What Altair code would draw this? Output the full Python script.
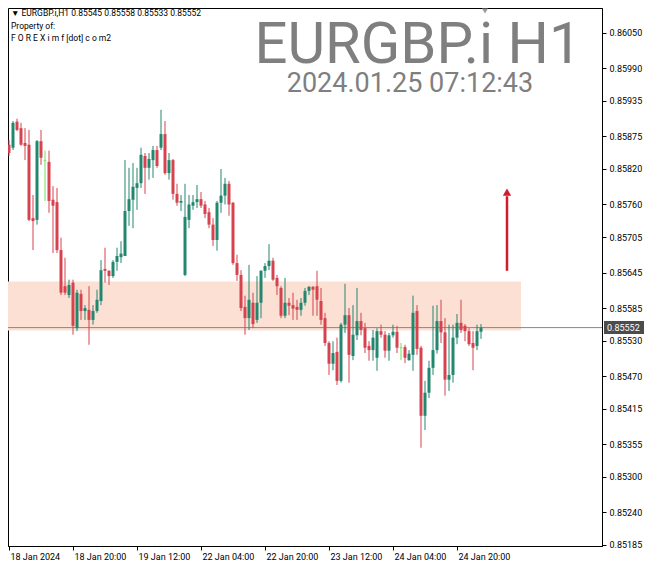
import altair as alt
import pandas as pd

# ---- H1 candles, 18 Jan 04:00 ... 25 Jan 06:00 ----
opens = [
    0.85861, 0.85856, 0.85900, 0.85889, 0.85864, 0.85861, 0.85737, 0.85734, 0.85867, 0.85834,
    0.85832, 0.85768, 0.85764, 0.85683, 0.85622, 0.85607, 0.85628, 0.85551, 0.85609, 0.85580,
    0.85582, 0.85565, 0.85580, 0.85597, 0.85651, 0.85648, 0.85639, 0.85663, 0.85671, 0.85673,
    0.85749, 0.85768, 0.85788, 0.85796, 0.85842, 0.85822, 0.85835, 0.85852, 0.85856, 0.85879,
    0.85813, 0.85835, 0.85778, 0.85763, 0.85641, 0.85734, 0.85758, 0.85764, 0.85769, 0.85760,
    0.85747, 0.85726, 0.85700, 0.85763, 0.85775, 0.85795, 0.85763, 0.85661, 0.85641, 0.85587,
    0.85568, 0.85594, 0.85565, 0.85594, 0.85648, 0.85656, 0.85665, 0.85636, 0.85619, 0.85572,
    0.85594, 0.85590, 0.85587, 0.85582, 0.85594, 0.85614, 0.85621, 0.85622, 0.85597, 0.85568,
    0.85526, 0.85491, 0.85511, 0.85462, 0.85557, 0.85573, 0.85504, 0.85539, 0.85563, 0.85551,
    0.85521, 0.85514, 0.85501, 0.85546, 0.85540, 0.85513, 0.85539, 0.85545, 0.85518, 0.85519,
    0.85497, 0.85506, 0.85580, 0.85518, 0.85403, 0.85442, 0.85484, 0.85514, 0.85563, 0.85544,
    0.85464, 0.85472, 0.85535, 0.85560, 0.85555, 0.85546, 0.85526, 0.85521, 0.85545,
]
highs = [
    0.85869, 0.85901, 0.85905, 0.85898, 0.85889, 0.85886, 0.85776, 0.85869, 0.85886, 0.85851,
    0.85851, 0.85791, 0.85788, 0.85704, 0.85670, 0.85633, 0.85633, 0.85616, 0.85616, 0.85590,
    0.85622, 0.85590, 0.85616, 0.85666, 0.85687, 0.85649, 0.85666, 0.85687, 0.85698, 0.85835,
    0.85822, 0.85830, 0.85822, 0.85856, 0.85847, 0.85847, 0.85859, 0.85859, 0.85920, 0.85901,
    0.85847, 0.85837, 0.85795, 0.85776, 0.85795, 0.85776, 0.85776, 0.85793, 0.85781, 0.85766,
    0.85754, 0.85737, 0.85766, 0.85820, 0.85805, 0.85800, 0.85764, 0.85675, 0.85649, 0.85606,
    0.85658, 0.85611, 0.85639, 0.85649, 0.85661, 0.85693, 0.85670, 0.85641, 0.85622, 0.85636,
    0.85602, 0.85611, 0.85599, 0.85602, 0.85619, 0.85622, 0.85622, 0.85648, 0.85619, 0.85577,
    0.85529, 0.85529, 0.85535, 0.85560, 0.85626, 0.85585, 0.85590, 0.85619, 0.85577, 0.85560,
    0.85529, 0.85548, 0.85551, 0.85557, 0.85546, 0.85543, 0.85557, 0.85555, 0.85526, 0.85523,
    0.85514, 0.85606, 0.85590, 0.85521, 0.85462, 0.85496, 0.85589, 0.85590, 0.85599, 0.85568,
    0.85557, 0.85557, 0.85575, 0.85599, 0.85558, 0.85551, 0.85546, 0.85557, 0.85558,
]
lows = [
    0.85842, 0.85852, 0.85884, 0.85859, 0.85835, 0.85732, 0.85683, 0.85726, 0.85827, 0.85766,
    0.85746, 0.85678, 0.85678, 0.85607, 0.85607, 0.85602, 0.85540, 0.85546, 0.85565, 0.85565,
    0.85523, 0.85557, 0.85577, 0.85590, 0.85628, 0.85624, 0.85636, 0.85648, 0.85661, 0.85673,
    0.85724, 0.85720, 0.85751, 0.85788, 0.85778, 0.85802, 0.85805, 0.85822, 0.85852, 0.85810,
    0.85802, 0.85768, 0.85758, 0.85749, 0.85639, 0.85720, 0.85751, 0.85754, 0.85754, 0.85737,
    0.85720, 0.85690, 0.85682, 0.85746, 0.85760, 0.85741, 0.85658, 0.85631, 0.85580, 0.85540,
    0.85548, 0.85551, 0.85560, 0.85568, 0.85636, 0.85649, 0.85631, 0.85607, 0.85568, 0.85568,
    0.85573, 0.85565, 0.85565, 0.85572, 0.85589, 0.85607, 0.85572, 0.85572, 0.85557, 0.85521,
    0.85472, 0.85480, 0.85455, 0.85459, 0.85543, 0.85459, 0.85497, 0.85531, 0.85539, 0.85509,
    0.85496, 0.85496, 0.85479, 0.85535, 0.85501, 0.85496, 0.85535, 0.85509, 0.85497, 0.85492,
    0.85496, 0.85479, 0.85506, 0.85349, 0.85379, 0.85433, 0.85472, 0.85508, 0.85526, 0.85437,
    0.85445, 0.85459, 0.85524, 0.85543, 0.85529, 0.85521, 0.85480, 0.85514, 0.85533,
]
closes = [
    0.85847, 0.85898, 0.85886, 0.85861, 0.85859, 0.85734, 0.85732, 0.85867, 0.85839, 0.85834,
    0.85766, 0.85758, 0.85683, 0.85611, 0.85611, 0.85624, 0.85555, 0.85611, 0.85580, 0.85585,
    0.85565, 0.85580, 0.85599, 0.85649, 0.85648, 0.85639, 0.85663, 0.85673, 0.85677, 0.85749,
    0.85769, 0.85790, 0.85796, 0.85844, 0.85822, 0.85837, 0.85852, 0.85825, 0.85879, 0.85813,
    0.85835, 0.85778, 0.85763, 0.85766, 0.85739, 0.85760, 0.85764, 0.85769, 0.85758, 0.85744,
    0.85726, 0.85700, 0.85763, 0.85775, 0.85795, 0.85760, 0.85661, 0.85641, 0.85585, 0.85568,
    0.85599, 0.85558, 0.85594, 0.85648, 0.85656, 0.85665, 0.85633, 0.85622, 0.85572, 0.85594,
    0.85589, 0.85584, 0.85582, 0.85594, 0.85614, 0.85621, 0.85616, 0.85599, 0.85565, 0.85526,
    0.85491, 0.85509, 0.85462, 0.85557, 0.85573, 0.85506, 0.85540, 0.85563, 0.85548, 0.85518,
    0.85514, 0.85535, 0.85546, 0.85540, 0.85513, 0.85539, 0.85545, 0.85518, 0.85518, 0.85501,
    0.85508, 0.85577, 0.85516, 0.85403, 0.85442, 0.85484, 0.85514, 0.85563, 0.85544, 0.85464,
    0.85472, 0.85535, 0.85560, 0.85548, 0.85546, 0.85524, 0.85518, 0.85546, 0.85552,
]

time_ticks = [0, 16, 32, 48, 64, 80, 96, 112]
time_labels = ["18 Jan 2024", "18 Jan 20:00", "19 Jan 12:00", "22 Jan 04:00",
               "22 Jan 20:00", "23 Jan 12:00", "24 Jan 04:00", "24 Jan 20:00"]
price_ticks = [0.86050, 0.85990, 0.85935, 0.85875, 0.85820, 0.85760, 0.85705, 0.85645,
               0.85585, 0.85530, 0.85470, 0.85415, 0.85355, 0.85300, 0.85240, 0.85185]
last_price = 0.85552
zone_top, zone_bottom, zone_end = 0.85630, 0.85547, 128
arrow_idx, arrow_from, arrow_to, arrow_head = 124.5, 0.85648, 0.85774, 0.85781
header = "\u25bc  EURGBP.i,H1  0.85545 0.85558 0.85533 0.85552"

UP, DOWN, DOJI = "#23876F", "#D5434F", "#6FE05A"
FONT = "Roboto"
W, H = 594, 538

rows = []
for i, (o, h, l, c) in enumerate(zip(opens, highs, lows, closes)):
    d = "up" if c > o else ("down" if c < o else "doji")
    rows.append({"i": i, "o": o, "h": h, "l": l, "c": c, "d": d})
df = pd.DataFrame(rows)

expr = " : ".join(f"datum.value == {t} ? '{s}'" for t, s in zip(time_ticks, time_labels)) + " : ''"

xscale = alt.Scale(domain=[-0.25, 148.25], nice=False, zero=False, padding=0)
yscale = alt.Scale(domain=[0.85183, 0.86092], nice=False, zero=False, padding=0)
xaxis = alt.Axis(values=time_ticks, labelExpr=expr, labelAlign="left", labelOffset=1,
                 tickSize=4, labelPadding=2, grid=False, title=None, labelFont=FONT,
                 labelFontSize=9, labelColor="black", domainColor="black", tickColor="black",
                 labelOverlap=False, labelFlush=False, labelBound=False)
yaxis = alt.Axis(orient="right", values=price_ticks, format=".5f", tickSize=4, labelPadding=3,
                 grid=False, title=None, labelFont=FONT, labelFontSize=9, labelColor="black",
                 domainColor="black", tickColor="black", labelOverlap=False, labelFlush=False,
                 labelBound=False)

def X(f):
    return alt.X(f, type="quantitative", scale=xscale, axis=xaxis)

def Y(f):
    return alt.Y(f, type="quantitative", scale=yscale, axis=yaxis)

color = alt.Color("d:N", scale=alt.Scale(domain=["up", "down", "doji"], range=[UP, DOWN, DOJI]),
                  legend=None)

zone = alt.Chart(pd.DataFrame([{"x0": -0.25, "x1": zone_end, "t": zone_top, "b": zone_bottom}])).mark_rect(
    color="#FCE0D4").encode(x=X("x0"), x2="x1", y=Y("t"), y2="b")

pline = alt.Chart(pd.DataFrame([{"p": last_price}])).mark_rule(color="#7C8C90", strokeWidth=1).encode(y=Y("p"))

wicks = alt.Chart(df).mark_rule(strokeWidth=1).encode(x=X("i"), y=Y("l"), y2="h", color=color)
bodies = alt.Chart(df).transform_filter("datum.d != 'doji'").mark_bar(size=3).encode(
    x=X("i"), y=Y("o"), y2="c", color=color)
dojis = alt.Chart(df).transform_filter("datum.d == 'doji'").mark_tick(
    orient="horizontal", size=3, thickness=1, color=DOJI).encode(x=X("i"), y=Y("o"))

arrow_df = pd.DataFrame([{"i": arrow_idx, "a": arrow_from, "b": arrow_to, "hd": arrow_head}])
arrow = alt.Chart(arrow_df).mark_rule(color="#CF1B2E", strokeWidth=2.5).encode(x=X("i"), y=Y("a"), y2="b")
head = alt.Chart(arrow_df).mark_point(shape="triangle-up", filled=True, size=70, color="#CF1B2E",
                                      opacity=1).encode(x=X("i"), y=Y("hd"))

marker = alt.Chart(pd.DataFrame([{"i": 119}])).mark_point(
    shape="triangle-down", filled=True, size=36, color="#9A9A9A", opacity=1).encode(
    x=X("i"), y=alt.value(3))

pbox = alt.Chart(pd.DataFrame([{"p": last_price}])).mark_tick(
    orient="horizontal", size=40, thickness=13, color="black").encode(x=alt.value(W + 22), y=Y("p"))
ptext = alt.Chart(pd.DataFrame([{"p": last_price, "t": f"{last_price:.5f}"}])).mark_text(
    align="left", baseline="middle", color="white", font=FONT, fontSize=9).encode(
    x=alt.value(W + 5), y=Y("p"), text="t:N")

def label(txt, x, y, size, col="black", align="left"):
    return alt.Chart(pd.DataFrame([{"t": txt}])).mark_text(
        align=align, baseline="alphabetic", font=FONT, fontSize=size, color=col).encode(
        x=alt.value(x), y=alt.value(y), text="t:N")

texts = [
    label(header, 3, 8, 8.5),
    label("Property of:", 3, 20.5, 8.5),
    label("F O R E X i m f [dot] c o m2", 3, 33, 8.5),
    label("EURGBP.i H1", 410, 55, 58, "#7F7F7F", "center"),
    label("2024.01.25 07:12:43", 402, 84, 27, "#7F7F7F", "center"),
]

chart = alt.layer(zone, pline, wicks, bodies, dojis, arrow, head, marker, pbox, ptext, *texts).properties(
    width=W, height=H,
    padding={"left": 0, "top": 0, "right": 42, "bottom": 18},
    autosize=alt.AutoSizeParams(type="none"),
    background="white",
).configure_view(stroke="black", strokeWidth=1)

chart.save("out.html", embed_options={"renderer": "svg", "actions": False})
